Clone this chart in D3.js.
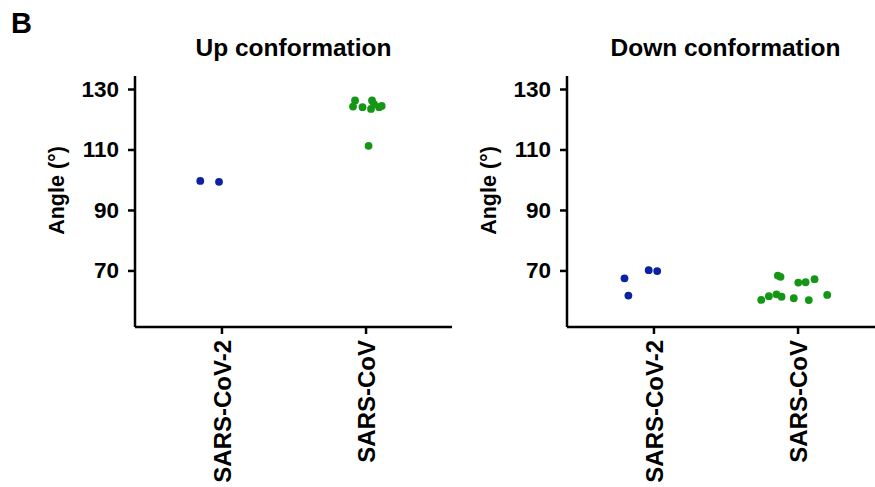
<!DOCTYPE html>
<html>
<head>
<meta charset="utf-8">
<script src="https://cdn.jsdelivr.net/npm/d3@7"></script>
<style>
  html, body { margin: 0; padding: 0; background: #fff; }
  svg { display: block; }
  text { font-family: "Liberation Sans", Arial, sans-serif; font-weight: bold; fill: #000; }
</style>
</head>
<body>
<svg id="chart" width="875" height="487"></svg>
<script>
// ---- Data ----
const categories = ["SARS-CoV-2", "SARS-CoV"];
const panelTitles = ["Up conformation", "Down conformation"];
const yTicks = [70, 90, 110, 130];
const yLabel = "Angle (°)";
const panelLetter = "B";

// Up conformation
const upCov2Values = [99.6, 99.3];
const upCov2Jitter = [-0.147, -0.017];
const upCovValues = [124.2, 126.2, 124.0, 126.2, 123.4, 125.0, 124.0, 124.4, 111.2];
const upCovJitter = [-0.087, -0.073, -0.021, 0.045, 0.038, 0.059, 0.094, 0.112, 0.021];

// Down conformation
const downCov2Values = [67.4, 61.7, 70.1, 69.8];
const downCov2Jitter = [-0.201, -0.174, -0.033, 0.026];
const downCovValues = [60.25, 61.5, 62.1, 61.3, 68.3, 67.9, 60.8, 66.0, 66.1, 60.2, 67.1, 61.9];
const downCovJitter = [-0.252, -0.199, -0.146, -0.111, -0.137, -0.118, -0.026, 0.005, 0.056, 0.078, 0.118, 0.206];

const colors = { "SARS-CoV-2": "#0b22a3", "SARS-CoV": "#169616" };

const panels = [
  { title: panelTitles[0], x0: 135, groups: [
      { cat: categories[0], values: upCov2Values, jitter: upCov2Jitter },
      { cat: categories[1], values: upCovValues, jitter: upCovJitter } ] },
  { title: panelTitles[1], x0: 567, groups: [
      { cat: categories[0], values: downCov2Values, jitter: downCov2Jitter },
      { cat: categories[1], values: downCovValues, jitter: downCovJitter } ] }
];

// ---- Drawing ----
const svg = d3.select("#chart");
const panelW = 317, yTop = 76, yBottom = 327;
const FONT = "Liberation Sans, Arial, sans-serif";

svg.append("text")
  .attr("x", 11).attr("y", 33)
  .style("font-size", "29px")
  .text(panelLetter);

const y = d3.scaleLinear().domain([51.3, 134.3]).range([yBottom, yTop]);

panels.forEach(p => {
  const x = d3.scalePoint().domain(categories).range([p.x0, p.x0 + panelW]).padding(0.6);
  const step = x.step();
  const g = svg.append("g");

  // title
  g.append("text")
    .attr("x", p.x0 + panelW / 2).attr("y", 56)
    .attr("text-anchor", "middle")
    .style("font-size", "24.5px")
    .text(p.title);

  // y axis
  const yAxis = g.append("g")
    .attr("transform", `translate(${p.x0},0)`)
    .call(d3.axisLeft(y).tickValues(yTicks).tickSize(7).tickPadding(9).tickFormat(d3.format("d")));
  yAxis.select(".domain").attr("d", `M0,${yTop}V${yBottom}`);

  // x axis
  const xAxis = g.append("g")
    .attr("transform", `translate(0,${yBottom})`)
    .call(d3.axisBottom(x).tickSize(7).tickPadding(7));
  xAxis.select(".domain").attr("d", `M${p.x0},0H${p.x0 + panelW}`);
  xAxis.selectAll(".tick text")
    .attr("transform", "rotate(-90)")
    .attr("text-anchor", "end")
    .attr("x", -13).attr("y", 0).attr("dy", "0.36em")
    .style("font-size", "24px")
    .style("font-family", FONT);

  [yAxis, xAxis].forEach(a => {
    a.selectAll(".domain").attr("stroke", "#000").attr("stroke-width", 2.5);
    a.selectAll(".tick line").attr("stroke", "#000").attr("stroke-width", 2.5);
  });
  yAxis.selectAll(".tick text").style("font-size", "22.5px").style("font-family", FONT);

  // y label
  g.append("text")
    .attr("transform", `translate(${p.x0 - 71},${(yTop + yBottom) / 2 - 11}) rotate(-90)`)
    .attr("text-anchor", "middle")
    .style("font-size", "21.5px")
    .text(yLabel);

  // points
  p.groups.forEach(gr => {
    g.selectAll(null)
      .data(gr.values.map((v, i) => ({ v, j: gr.jitter[i] })))
      .enter().append("circle")
      .attr("cx", d => x(gr.cat) + d.j * step)
      .attr("cy", d => y(d.v))
      .attr("r", 3.9)
      .attr("fill", colors[gr.cat]);
  });
});
</script>
</body>
</html>
